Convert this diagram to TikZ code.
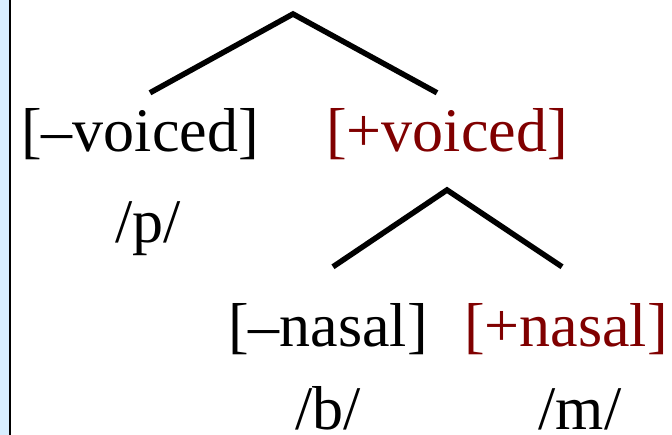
\documentclass[tikz,border=0pt]{standalone}
\usepackage{fontspec}
\setmainfont{Liberation Serif}
\usetikzlibrary{positioning}
\definecolor{plusred}{RGB}{128,0,0}
\definecolor{stripblue}{RGB}{216,238,255}

\begin{document}
\begin{tikzpicture}[x=1pt,y=-1pt,
  font=\fontsize{62}{70}\selectfont,
  feat/.style={inner sep=0pt,anchor=base},
  plus/.style={feat,text=plusred},
  phon/.style={feat},
  branch/.style={line width=5.5pt,line join=miter}]

  \useasboundingbox (0,0) rectangle (672,435);
  \fill[stripblue] (0,0) rectangle (9,435);
  \fill[black] (9,0) rectangle (11,435);

  % top split
  \coordinate (root) at (293,14);
  \node[feat] (voiceless) at (140,152) {[–voiced]};
  \node[plus] (voiced) at (447,152) {[+voiced]};
  \node[phon] (p) at (148,243) {/p/};
  \draw[branch] ([xshift=10pt,yshift=16pt]voiceless.north) -- (root)
    -- ([xshift=-10pt,yshift=16pt]voiced.north);

  % voiced split
  \coordinate (vroot) at (447,190);
  \node[feat] (oral) at (328,347) {[–nasal]};
  \node[plus] (nasal) at (566,347) {[+nasal]};
  \node[phon] (b) at (328,429) {/b/};
  \node[phon] (m) at (580,429) {/m/};
  \draw[branch] ([xshift=5pt,yshift=37pt]oral.north) -- (vroot)
    -- ([xshift=-4pt,yshift=37pt]nasal.north);

\end{tikzpicture}
\end{document}
